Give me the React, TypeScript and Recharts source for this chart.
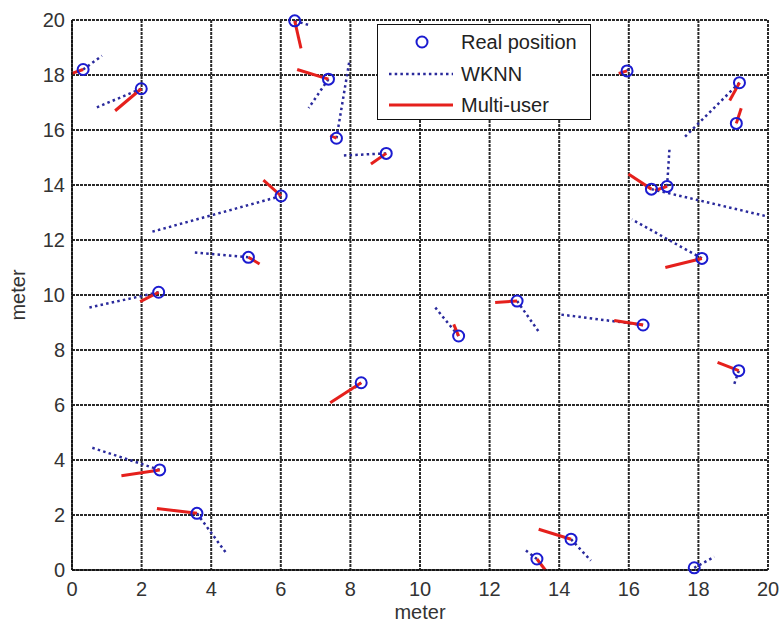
import { CartesianGrid, Label, Legend, ReferenceLine, Scatter, ScatterChart, XAxis, YAxis } from "recharts"

// real positions of the users (blue circles)
const realX = [0.32, 1.99, 6.4, 7.37, 7.6, 9.03, 6.01, 5.07, 2.49, 11.11, 12.79, 8.31, 16.41, 18.1, 19.16, 16.65, 17.1, 15.95, 19.18, 19.09, 2.52, 3.59, 13.36, 14.34, 17.88]
const realY = [18.2, 17.5, 19.97, 17.85, 15.7, 15.15, 13.6, 11.37, 10.1, 8.51, 9.78, 6.81, 8.91, 11.33, 7.25, 13.85, 13.95, 18.15, 17.72, 16.24, 3.64, 2.06, 0.4, 1.12, 0.08]

// WKNN estimates (end of the dotted lines)
const wknnX = [0.86, 0.67, 6.85, 6.8, 7.97, 7.76, 2.3, 3.45, 0.48, 10.44, 13.41, 8.05, 13.98, 16.09, 19.03, 20, 17.17, 16.05, 17.57, 19.09, 0.57, 4.45, 13.0, 14.91, 18.46]
const wknnY = [18.7, 16.8, 19.8, 16.8, 18.5, 15.07, 12.3, 11.55, 9.54, 9.54, 8.67, 6.55, 9.3, 12.75, 6.76, 12.85, 15.33, 18.3, 15.7, 16.24, 4.45, 0.58, 0.75, 0.34, 0.48]

// multi-user estimates (end of the red lines)
const multiX = [0, 1.24, 6.58, 6.47, 7.42, 8.59, 5.5, 5.39, 1.96, 10.97, 12.16, 7.42, 15.58, 17.05, 18.55, 15.99, 16.75, 15.71, 18.9, 19.23, 1.42, 2.44, 13.6, 13.41, 17.88]
const multiY = [18.06, 16.7, 18.97, 18.2, 15.8, 14.76, 14.18, 11.13, 9.76, 8.93, 9.73, 6.08, 9.07, 11.0, 7.55, 14.4, 13.8, 18.06, 17.07, 16.79, 3.43, 2.24, 0, 1.48, 0.08]

const ticks = [0, 2, 4, 6, 8, 10, 12, 14, 16, 18, 20]

const BLUE = "#1b1bd0"
const DOT_BLUE = "#2a2a9c"
const RED = "#e5201c"
const FONT = "'Liberation Sans', Arial, sans-serif"

const points = realX.map((x, i) => ({ x, y: realY[i] }))

function Ring(props: any) {
  const { cx, cy } = props
  return <circle cx={cx} cy={cy} r={5.5} fill="none" stroke={BLUE} strokeWidth={2} />
}

function LegendBox() {
  const row = (top: number, icon: any, text: string) => (
    <div style={{ position: "absolute", left: 0, top: top - 12, height: 24, width: "100%" }}>
      <svg width={66} height={24} style={{ position: "absolute", left: 10, top: 0 }}>
        {icon}
      </svg>
      <span style={{ position: "absolute", left: 83, top: 0, lineHeight: "24px" }}>{text}</span>
    </div>
  )
  return (
    <div
      style={{
        position: "relative",
        width: 214,
        height: 96,
        boxSizing: "border-box",
        border: "1.5px solid #111",
        background: "#fff",
        fontFamily: FONT,
        fontSize: 20,
        color: "#222",
      }}
    >
      {row(17, <circle cx={34} cy={12} r={5.5} fill="none" stroke={BLUE} strokeWidth={2} />, "Real position")}
      {row(49, <line x1={1} x2={65} y1={12} y2={12} stroke={DOT_BLUE} strokeWidth={2.5} strokeDasharray="2.5 3.2" />, "WKNN")}
      {row(80, <line x1={1} x2={65} y1={12} y2={12} stroke={RED} strokeWidth={3} />, "Multi-user")}
    </div>
  )
}

export default function App() {
  return (
    <div style={{ position: "absolute", left: 0, top: 0, width: 779, height: 624, background: "#fff" }}>
      <ScatterChart width={779} height={624} margin={{ top: 20, right: 11, bottom: 0, left: 0 }}>
        <CartesianGrid stroke="#2a2a2a" strokeWidth={2} strokeDasharray="3 1" />
        <XAxis
          type="number"
          dataKey="x"
          domain={[0, 20]}
          ticks={ticks}
          height={54}
          tickLine={false}
          tickSize={0}
          tickMargin={12}
          axisLine={{ stroke: "#111", strokeWidth: 1.5 }}
          tick={{ fill: "#333", fontSize: 20, fontFamily: FONT }}
        >
          <Label value="meter" position="insideBottom" offset={5} fill="#333" fontSize={20} fontFamily={FONT} />
        </XAxis>
        <YAxis
          type="number"
          dataKey="y"
          domain={[0, 20]}
          ticks={ticks}
          width={72}
          tickLine={false}
          tickSize={0}
          tickMargin={7}
          axisLine={{ stroke: "#111", strokeWidth: 1.5 }}
          tick={{ fill: "#333", fontSize: 20, fontFamily: FONT }}
        >
          <Label value="meter" angle={-90} position="center" dx={-18} fill="#333" fontSize={20} fontFamily={FONT} />
        </YAxis>
        {realX.map((x, i) => (
          <ReferenceLine
            key={"w" + i}
            segment={[{ x, y: realY[i] }, { x: wknnX[i], y: wknnY[i] }]}
            stroke={DOT_BLUE}
            strokeWidth={2.5}
            strokeDasharray="2.5 3.2"
            ifOverflow="visible"
          />
        ))}
        {realX.map((x, i) => (
          <ReferenceLine
            key={"m" + i}
            segment={[{ x, y: realY[i] }, { x: multiX[i], y: multiY[i] }]}
            stroke={RED}
            strokeWidth={3}
            ifOverflow="visible"
          />
        ))}
        <Scatter name="Real position" data={points} shape={Ring} isAnimationActive={false} />
        <Legend
          layout="vertical"
          align="center"
          verticalAlign="middle"
          content={() => <LegendBox />}
          wrapperStyle={{ position: "absolute", left: 377, top: 24, width: 214, height: 96 }}
        />
      </ScatterChart>
    </div>
  )
}
